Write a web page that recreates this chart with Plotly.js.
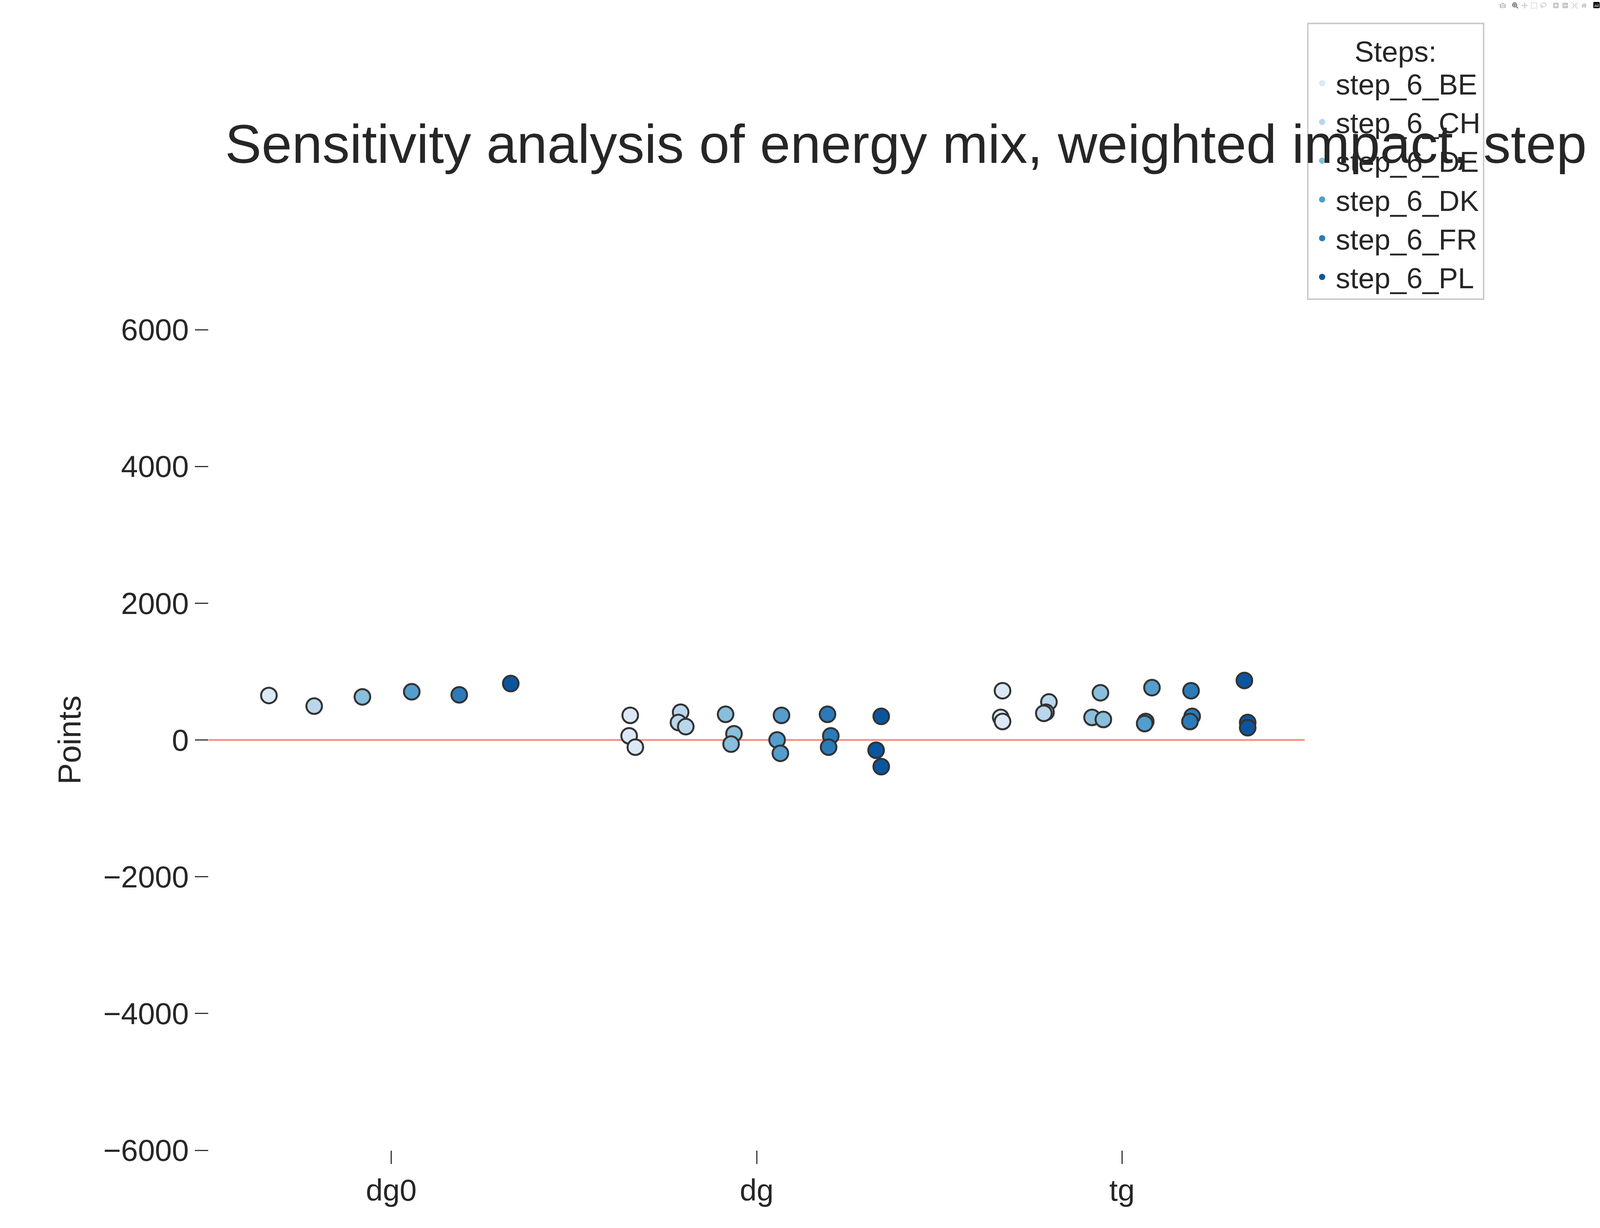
<!DOCTYPE html>
<html><head><meta charset="utf-8">
<script src="https://cdn.plot.ly/plotly-3.0.1.min.js"></script>
<style>body{margin:0;background:#fff}</style></head>
<body><div id="c" style="width:4101px;height:3144px"></div>
<script>
const categories = ["dg0","dg","tg"];
const steps = ["step_6_BE","step_6_CH","step_6_DE","step_6_DK","step_6_FR","step_6_PL"];
const colors = ["#dbe9f6","#bad6eb","#89bedc","#539ecd","#2b7bba","#0b559f"];
const catIdx = [0,1,1,1,2,2,2];
const values = {
  step_6_BE:[650,360,60,-105,720,330,270],
  step_6_CH:[495,405,255,195,555,405,390],
  step_6_DE:[630,375,90,-60,690,330,300],
  step_6_DK:[705,360,0,-195,765,270,240],
  step_6_FR:[660,375,60,-105,720,345,270],
  step_6_PL:[825,345,-150,-390,870,255,180]
};
// dodged + jittered horizontal offsets within category (category units)
const offsets = {
  step_6_BE:[-0.335,-0.346,-0.349,-0.332,-0.327,-0.332,-0.327],
  step_6_CH:[-0.211,-0.208,-0.214,-0.194,-0.200,-0.208,-0.214],
  step_6_DE:[-0.079,-0.085,-0.062,-0.070,-0.059,-0.082,-0.051],
  step_6_DK:[0.056,0.068,0.056,0.065,0.082,0.065,0.062],
  step_6_FR:[0.186,0.194,0.203,0.197,0.189,0.192,0.186],
  step_6_PL:[0.327,0.341,0.327,0.341,0.335,0.344,0.344]
};
const traces = [];
steps.forEach((s,i)=>{
  traces.push({type:'scatter',mode:'markers',showlegend:false,
    x:catIdx.map((c,k)=>c+offsets[s][k]), y:values[s],
    marker:{size:40,color:colors[i],line:{color:'#333333',width:5}}});
});
steps.forEach((s,i)=>{
  traces.push({type:'scatter',mode:'markers',name:s,x:[null],y:[null],
    marker:{size:42,color:colors[i],line:{width:0}}});
});
Plotly.newPlot('c',traces,{
  width:4101,height:3144,paper_bgcolor:'#fff',plot_bgcolor:'#fff',
  font:{family:'Arial, Liberation Sans, sans-serif',color:'#262626',size:78},
  margin:{l:534,r:761,t:844,b:199},
  title:{text:'Sensitivity analysis of energy mix, weighted impact, step 4',x:0.015,xanchor:'left',xref:'paper',y:0.883,yanchor:'middle',font:{size:140,color:'#262626'}},
  xaxis:{range:[-0.5,2.5],tickvals:[0,1,2],ticktext:categories,showgrid:false,zeroline:false,showline:false,
    ticks:'outside',ticklen:34,tickwidth:3,tickcolor:'#333',tickfont:{size:78}},
  yaxis:{range:[-6000,6000],tickvals:[-6000,-4000,-2000,0,2000,4000,6000],showgrid:false,zeroline:false,showline:false,
    ticks:'outside',ticklen:34,tickwidth:3,tickcolor:'#333',tickfont:{size:78},
    title:{text:'Points',font:{size:82},standoff:30}},
  shapes:[{type:'line',xref:'paper',x0:0,x1:1,yref:'y',y0:0,y1:0,line:{color:'#fa8072',width:4},layer:'below'}],
  legend:{x:1.002,xanchor:'left',xref:'paper',y:1.374,yref:'paper',yanchor:'top',
    bgcolor:'rgba(255,255,255,0.8)',bordercolor:'#cccccc',borderwidth:4,
    title:{text:'Steps:',side:'top center',font:{size:74}},font:{size:74},tracegroupgap:0,itemwidth:60}
});
</script></body></html>
